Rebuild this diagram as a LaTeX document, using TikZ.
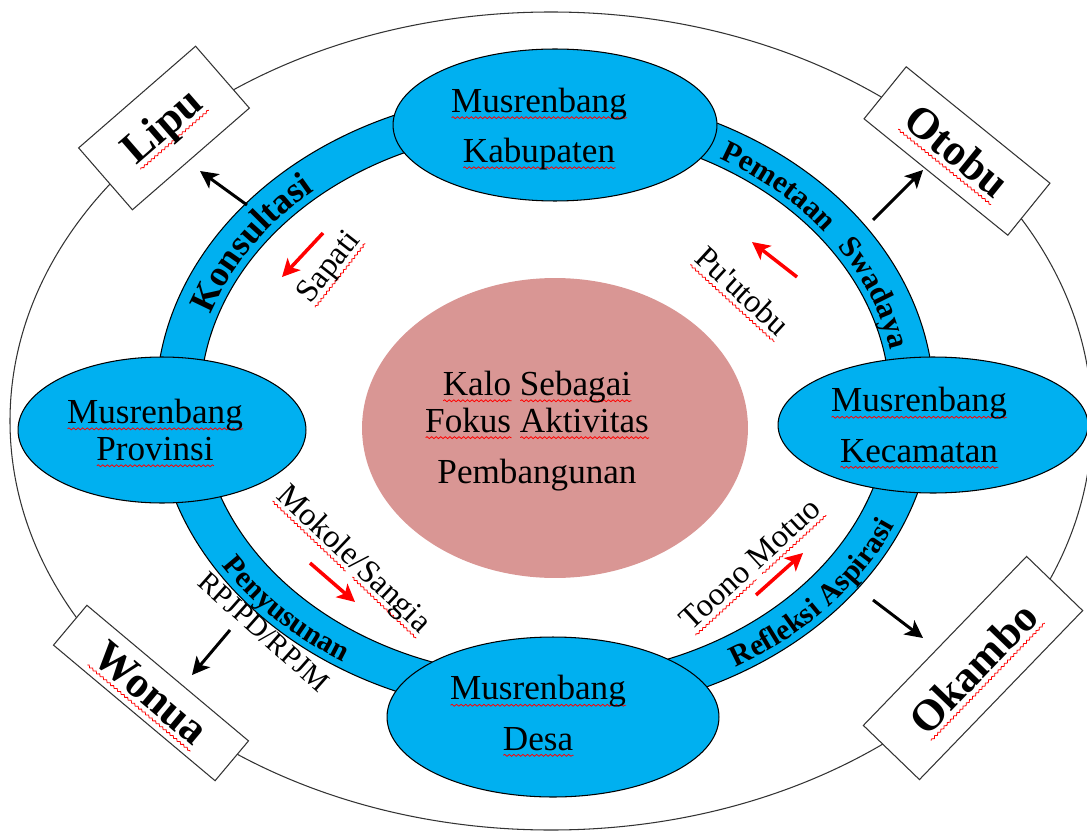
\documentclass[tikz,border=0pt]{standalone}
\usepackage{fontspec}
\setmainfont{Liberation Serif}
\usetikzlibrary{shapes.geometric,arrows.meta,decorations.text,decorations.pathmorphing}
\definecolor{ringblue}{HTML}{00B0F0}
\definecolor{kalopink}{HTML}{D99694}
\newsavebox\rubox
\newlength\rulen
\newcommand\ru[1]{\sbox\rubox{#1}\setlength\rulen{\wd\rubox}\rlap{\smash{\tikz[baseline=0pt]\draw[red, line width=0.45pt, fill=none, decorate, decoration={snake, amplitude=0.55pt, segment length=2.6pt}] (0pt,-3pt) -- (\rulen,-3pt);}}\usebox\rubox}
\newcommand\ringfont[1]{\fontsize{#1}{#1}\selectfont\bfseries}
\begin{document}
\begin{tikzpicture}[x=0.02cm,y=0.02cm,
  blueell/.style={ellipse, draw=black, line width=0.6pt, fill=ringblue, inner sep=0pt},
  eltext/.style={align=center, inner sep=0pt, font=\fontsize{20}{28.5}\selectfont},
  boxlab/.style={draw=black!80, line width=0.6pt, fill=white, inner sep=0pt, font=\fontsize{25}{25}\selectfont\bfseries},
  redlab/.style={inner sep=0pt, font=\fontsize{18.5}{18.5}\selectfont},
  outarrow/.style={line width=1.7pt, -{Stealth[length=10pt,width=10pt,inset=2.5pt]}},
  redarrow/.style={red, line width=2pt, -{Stealth[length=10pt,width=10pt,inset=2.5pt]}},
  ringtext/.style 2 args={decorate, decoration={text along path, text align=center, text={|\ringfont{#1}|#2}}}
]
\useasboundingbox (0,0) rectangle (1087,-834);
% outer ellipse
\draw[line width=0.6pt, black!80] (551,-421) ellipse [x radius=541, y radius=409];
% ring
\coordinate (ringc) at (545,-403);
\draw[line width=0.6pt, fill=ringblue, even odd rule] (ringc) ellipse [x radius=389, y radius=312] (ringc) ellipse [x radius=345, y radius=274];
% centre
\node[ellipse, fill=kalopink, inner sep=0pt, minimum width=7.72cm, minimum height=6.0cm] (kalo) at (555,-428) {};
% blue ellipses
\node[blueell, minimum width=6.48cm, minimum height=3.04cm] (kab) at (555,-125) {};
\node[blueell, minimum width=5.76cm, minimum height=2.92cm] (prov) at (162,-430) {};
\node[blueell, minimum width=6.2cm, minimum height=2.72cm] (kec) at (933,-425) {};
\node[blueell, minimum width=6.64cm, minimum height=3.2cm] (desa) at (553,-717) {};
% ellipse texts
\node[eltext] (kabT) at (539,-129) {\ru{Musrenbang}\\\ru{Kabupaten}};
\node[eltext, font=\fontsize{20}{21}\selectfont] (provT) at (155,-430) {\ru{Musrenbang}\\\ru{Provinsi}};
\node[eltext] (kecT) at (919,-425) {\ru{Musrenbang}\\\ru{Kecamatan}};
\node[eltext] (desaT) at (538,-713) {\ru{Musrenbang}\\\ru{Desa}};
\node[align=center, inner sep=0pt, font=\fontsize{20}{21}\selectfont] (kaloT) at (537,-431) {\ru{Kalo}\ \ru{Sebagai}\\\ru{Fokus}\ \ru{Aktivitas}\\[8pt]Pembangunan};
% ring labels
\path[ringtext={20.5}{Konsultasi}] ([shift={(172:352 and 281)}]ringc) arc[start angle=172, end angle=122, x radius=352, y radius=281];
\path[ringtext={17.5}{Pemetaan {\hspace{0.35em}}Swadaya}] ([shift={(66:352 and 281)}]ringc) arc[start angle=66, end angle=4, x radius=352, y radius=281];
\path[ringtext={17}{Refleksi Aspirasi}] ([shift={(-70:382 and 305)}]ringc) arc[start angle=-70, end angle=-12, x radius=382, y radius=305];
\path[ringtext={17}{Penyusunan}] ([shift={(195:382 and 305)}]ringc) arc[start angle=195, end angle=253, x radius=382, y radius=305];
% red labels
\node[redlab, rotate=52] (sapatiT) at (330,-268) {\ru{Sapati}};
\node[redlab, rotate=-42.5] (puutobuT) at (743,-291) {\ru{Pu\textquotesingle utobu}};
\node[redlab, rotate=-43.6] (mokoleT) at (353,-560) {\ru{Mokole}/\ru{Sangia}};
\node[redlab, rotate=42.6] (toonoT) at (750,-564) {\ru{Toono}\ \ru{Motuo}};
\node[inner sep=0pt, font=\fontsize{16.5}{16.5}\selectfont, rotate=-41.5] (rpjT) at (264,-632) {RPJPD/RPJM};
% arrow end points
\coordinate (lipuA) at (247,-205); \coordinate (lipuB) at (200,-171);
\coordinate (otobuA) at (873,-220); \coordinate (otobuB) at (923,-170);
\coordinate (okamboA) at (873,-600); \coordinate (okamboB) at (923,-638);
\coordinate (wonuaA) at (230,-630); \coordinate (wonuaB) at (192,-675);
\coordinate (sapA) at (323,-233); \coordinate (sapB) at (282,-277);
\coordinate (puA) at (797,-277); \coordinate (puB) at (752,-242);
\coordinate (mokA) at (310,-563); \coordinate (mokB) at (355,-602);
\coordinate (tooA) at (756,-595); \coordinate (tooB) at (803,-553);
\draw[outarrow] (lipuA) -- (lipuB);
\draw[outarrow] (otobuA) -- (otobuB);
\draw[outarrow] (okamboA) -- (okamboB);
\draw[outarrow] (wonuaA) -- (wonuaB);
\draw[redarrow] (sapA) -- (sapB);
\draw[redarrow] (puA) -- (puB);
\draw[redarrow] (mokA) -- (mokB);
\draw[redarrow] (tooA) -- (tooB);
% boxes
\node[boxlab, minimum width=3.1cm, minimum height=1.64cm, rotate=41] (lipu) at (164,-128) {\ru{Lipu}};
\node[boxlab, minimum width=3.7cm, minimum height=1.34cm, rotate=-39] (otobu) at (957,-151) {\ru{Otobu}};
\node[boxlab, minimum width=4.22cm, minimum height=1.04cm, rotate=-40] (wonua) at (151,-693) {\ru{Wonua}};
\node[boxlab, minimum width=4.7cm, minimum height=1.56cm, rotate=46] (okambo) at (973,-668) {\ru{Okambo}};
\end{tikzpicture}
\end{document}
